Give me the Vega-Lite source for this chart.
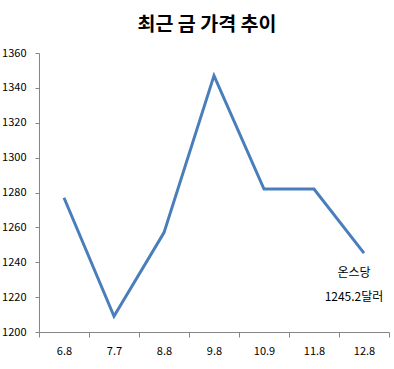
{
  "$schema": "https://vega.github.io/schema/vega-lite/v6.json",
  "width": 350,
  "height": 279,
  "autosize": "none",
  "padding": {"left": 39, "top": 53, "right": 5, "bottom": 37},
  "background": "white",
  "title": {
    "text": "최근 금 가격 추이",
    "font": "Noto Sans CJK KR",
    "fontSize": 19.5,
    "fontWeight": "bold",
    "color": "#000000",
    "anchor": "middle",
    "dx": -7,
    "offset": 12
  },
  "config": {
    "view": {"stroke": null},
    "axis": {
      "labelFont": "Noto Sans CJK KR",
      "labelFontSize": 11,
      "labelColor": "#000000",
      "domainColor": "#868686",
      "tickColor": "#868686",
      "grid": false,
      "title": null,
      "labelOverlap": false
    }
  },
  "data": {
    "values": [
      {"month": "6.8", "price": 1277},
      {"month": "7.7", "price": 1209},
      {"month": "8.8", "price": 1257},
      {"month": "9.8", "price": 1347},
      {"month": "10.9", "price": 1282},
      {"month": "11.8", "price": 1282},
      {"month": "12.8", "price": 1245.2}
    ]
  },
  "encoding": {
    "x": {
      "field": "month",
      "type": "ordinal",
      "sort": null,
      "scale": {"paddingInner": 0, "paddingOuter": 0},
      "axis": {"labelAngle": 0, "tickBand": "extent", "tickSize": 5, "labelPadding": 8}
    },
    "y": {
      "field": "price",
      "type": "quantitative",
      "scale": {"domain": [1200, 1360], "nice": false, "zero": false},
      "axis": {"values": [1200, 1220, 1240, 1260, 1280, 1300, 1320, 1340, 1360], "format": "d", "tickSize": 4, "labelPadding": 9, "labelFlush": false, "labelOverlap": false, "tickCount": 9}
    }
  },
  "layer": [
    {
      "mark": {"type": "line", "color": "#4a7ebb", "strokeWidth": 3}
    },
    {
      "data": {
        "values": [
          {"month": "12.8", "price": 1234, "label": "온스당"},
          {"month": "12.8", "price": 1220, "label": "1245.2달러"}
        ]
      },
      "mark": {"type": "text", "font": "Noto Sans CJK KR", "fontSize": 12, "color": "#000000", "dx": -10, "baseline": "middle"},
      "encoding": {
        "text": {"field": "label"}
      }
    }
  ]
}
